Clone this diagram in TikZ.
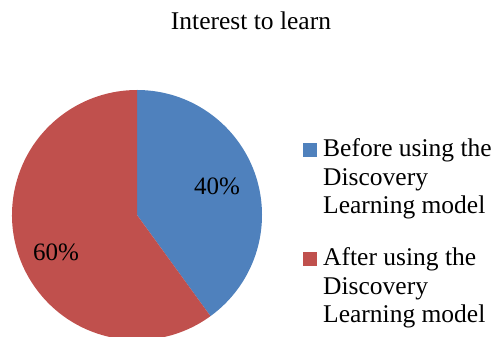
\documentclass[tikz,border=0pt]{standalone}
\usepackage{fontspec}
\usepackage{tikz}
\usetikzlibrary{positioning}
\setmainfont{Liberation Serif}
\definecolor{pieblue}{HTML}{4F81BD}
\definecolor{piered}{HTML}{C0504D}

\begin{document}
\begin{tikzpicture}[x=1pt, y=1pt,
  keybox/.style={inner sep=0pt, minimum size=14pt},
  keytext/.style={inner sep=0pt, align=left, anchor=north west, font=\fontsize{25.5}{28.5}\selectfont}]
\useasboundingbox (0,0) rectangle (495,337);
\node[font=\fontsize{25.5}{30}\selectfont, anchor=base] (title) at (251,307) {Interest to learn};
\coordinate (pie) at (137,122);
% slices
\fill[pieblue] (pie) -- ++(90:125pt) arc[start angle=90, end angle=-54, radius=125pt] -- cycle;
\fill[piered] (pie) -- ++(-54:125pt) arc[start angle=-54, end angle=-270, radius=125pt] -- cycle;
\node[font=\fontsize{25}{30}\selectfont, anchor=base] (lbl40) at (217,142) {40\%};
\node[font=\fontsize{25}{30}\selectfont, anchor=base] (lbl60) at (56,76) {60\%};
% legend
\node[keybox, fill=pieblue] (keyblue) at (310,186.5) {};
\node[keytext] (txtblue) at (323,198.5) {Before using the\\Discovery\\Learning model};
\node[keybox, fill=piered] (keyred) at (310,78) {};
\node[keytext] (txtred) at (323,89.5) {After using the\\Discovery\\Learning model};
\end{tikzpicture}
\end{document}
